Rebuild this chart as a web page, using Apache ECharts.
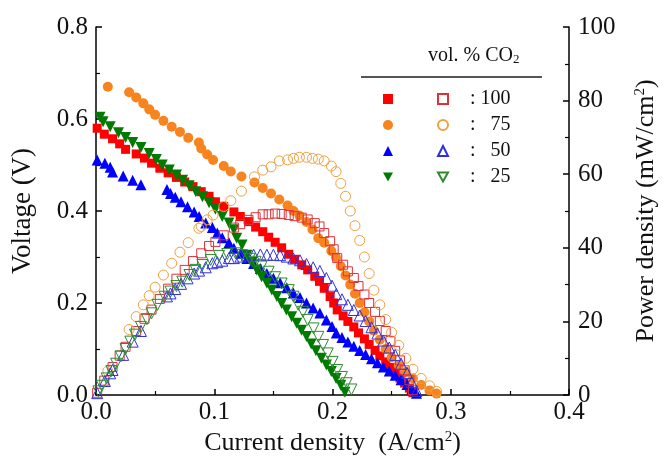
<!DOCTYPE html>
<html><head><meta charset="utf-8">
<script src="https://cdn.jsdelivr.net/npm/echarts@6/dist/echarts.min.js"></script>
<style>html,body{margin:0;padding:0;background:#fff}#c{width:667px;height:464px}</style>
</head><body><div id="c"></div>
<script>
// ---- data ----
const xLabels = ['0.0','0.1','0.2','0.3','0.4'];
const vLabels = ['0.0','0.2','0.4','0.6','0.8'];
const pLabels = ['0','20','40','60','80','100'];
const co2Labels = ['100','75','50','25'];

// 100 vol.% CO2
const curr100 = [0.001,0.007,0.014,0.020,0.025,0.034,0.041,0.047,0.054,0.061,0.068,0.075,0.082,0.089,0.0956,0.101,0.108,0.1166,0.122,0.129,0.135,0.141,0.146,0.1515,0.157,0.163,0.168,0.174,0.179,0.185,0.189,0.193,0.198,0.201,0.204,0.209,0.213,0.218,0.222,0.227,0.231,0.236,0.240,0.245,0.249,0.253,0.257,0.261,0.265,0.268];
const volt100 = [0.580,0.567,0.557,0.546,0.534,0.524,0.515,0.504,0.493,0.483,0.473,0.463,0.453,0.442,0.432,0.420,0.410,0.398,0.388,0.377,0.365,0.355,0.343,0.332,0.320,0.306,0.295,0.283,0.272,0.258,0.247,0.232,0.214,0.200,0.185,0.172,0.160,0.148,0.135,0.122,0.110,0.097,0.085,0.072,0.060,0.048,0.037,0.026,0.015,0.005];
const pow100 = [0.6,3.9,7.6,10.7,13.1,17.4,20.7,23.2,26.1,28.9,31.6,34.0,36.4,38.5,40.5,41.6,43.4,45.5,46.4,47.6,48.3,49.1,49.1,49.3,49.2,48.9,48.6,48.2,47.7,46.7,45.8,44.0,41.8,39.6,37.2,35.4,33.6,31.8,29.6,27.3,25.0,22.6,20.1,17.4,14.7,12.0,9.4,6.7,4.0,1.3];

// 75 vol.% CO2
const curr75 = [0.010,0.028,0.034,0.040,0.045,0.050,0.057,0.064,0.071,0.078,0.087,0.089,0.094,0.099,0.108,0.114,0.123,0.134,0.141,0.148,0.155,0.162,0.167,0.172,0.178,0.183,0.188,0.193,0.199,0.203,0.207,0.211,0.215,0.219,0.223,0.227,0.231,0.235,0.240,0.245,0.250,0.256,0.262,0.268,0.275,0.282,0.288];
const volt75 = [0.670,0.658,0.647,0.634,0.621,0.609,0.596,0.583,0.572,0.559,0.549,0.536,0.523,0.511,0.498,0.486,0.475,0.462,0.450,0.438,0.425,0.412,0.400,0.390,0.376,0.360,0.341,0.331,0.313,0.299,0.280,0.260,0.240,0.220,0.200,0.180,0.160,0.140,0.120,0.100,0.082,0.065,0.050,0.036,0.022,0.010,0.003];
const pow75 = [6.5,17.8,21.3,24.5,27.0,29.3,32.6,35.8,38.8,41.4,45.3,45.8,47.6,48.9,51.2,52.8,55.4,59.3,61.1,62.0,63.6,63.9,64.3,64.6,64.6,64.3,64.1,63.6,62.2,60.7,57.5,54.0,50.0,46.0,42.0,37.5,33.0,28.5,24.5,20.5,17.0,13.5,10.0,7.0,4.5,2.5,1.0];

// 50 vol.% CO2
const curr50 = [0.001,0.0075,0.012,0.014,0.023,0.031,0.038,0.060,0.063,0.067,0.0719,0.0774,0.083,0.0872,0.0928,0.0984,0.1026,0.1068,0.1124,0.1166,0.1222,0.1277,0.1333,0.139,0.1445,0.150,0.1557,0.1613,0.1669,0.1725,0.178,0.1836,0.1893,0.1948,0.1996,0.2032,0.208,0.213,0.218,0.223,0.228,0.233,0.238,0.243,0.248,0.253,0.258,0.263,0.267,0.271];
const volt50 = [0.511,0.504,0.495,0.485,0.476,0.467,0.457,0.447,0.438,0.430,0.420,0.409,0.398,0.388,0.374,0.364,0.352,0.342,0.331,0.319,0.308,0.297,0.286,0.275,0.264,0.254,0.244,0.233,0.222,0.212,0.200,0.189,0.178,0.163,0.149,0.135,0.125,0.115,0.106,0.097,0.088,0.079,0.070,0.061,0.052,0.043,0.033,0.023,0.013,0.004];
const pow50 = [0.5,3.8,5.9,6.8,10.9,14.5,17.4,26.8,27.6,28.8,30.2,31.7,33.0,33.8,34.7,35.8,36.1,36.5,37.2,37.2,37.6,37.9,38.1,38.2,38.1,38.1,38.0,37.6,37.1,36.6,35.6,34.7,33.7,31.8,29.7,27.4,26.0,24.5,23.1,21.6,20.1,18.4,16.7,14.8,12.9,10.9,8.5,6.0,3.5,1.1];

// 25 vol.% CO2
const curr25 = [0.0034,0.006,0.012,0.019,0.025,0.031,0.038,0.045,0.051,0.056,0.062,0.068,0.0732,0.0788,0.0844,0.090,0.0956,0.101,0.1067,0.1124,0.1166,0.119,0.1235,0.1277,0.132,0.136,0.140,0.1445,0.1487,0.1529,0.157,0.161,0.1655,0.1697,0.1738,0.178,0.182,0.186,0.1906,0.1948,0.199,0.203,0.207,0.2105];
const volt25 = [0.604,0.594,0.583,0.570,0.560,0.549,0.538,0.525,0.512,0.500,0.489,0.478,0.467,0.455,0.442,0.431,0.418,0.404,0.388,0.374,0.359,0.341,0.326,0.304,0.288,0.272,0.257,0.243,0.228,0.214,0.199,0.185,0.170,0.156,0.141,0.127,0.111,0.096,0.080,0.065,0.051,0.036,0.021,0.006];
const currP25 = [0.002,0.005,0.009,0.013,0.017,0.021,0.025,0.029,0.033,0.038,0.043,0.047,0.052,0.058,0.063,0.068,0.073,0.079,0.084,0.090,0.097,0.104,0.111,0.118,0.1235,0.130,0.135,0.140,0.146,0.1515,0.157,0.163,0.167,0.171,0.175,0.179,0.184,0.188,0.192,0.196,0.200,0.204,0.208,0.212,0.216];
const pow25 = [1.0,2.5,4.5,6.5,8.5,10.5,12.5,14.5,16.4,18.5,20.6,22.2,24.5,26.7,28.1,29.6,30.8,32.6,34.0,35.3,36.7,37.8,38.3,38.5,38.0,37.0,36.2,34.9,33.5,32.0,30.3,28.5,26.7,24.5,22.6,20.4,18.1,15.8,13.6,11.3,9.0,6.8,4.9,3.2,1.5];

// ---- chart ----
const chart = echarts.init(document.getElementById('c'), null, { renderer: 'canvas' });
const FONT = '"Liberation Serif", "Times New Roman", serif';
const TXT = '#111';
const DOWN_TRI = 'path://M0,0L10,0L5,9Z';
const pairs = (xs, ys) => xs.map((x, i) => [x, ys[i]]);

function filled(name, xs, ys, symbol, size, color, rot) {
  return { name, type: 'scatter', yAxisIndex: 0, data: pairs(xs, ys), symbol, symbolSize: size,
    symbolRotate: rot || 0, itemStyle: { color, opacity: 1 }, z: 2 };
}
function open(name, xs, ys, symbol, size, color, rot) {
  return { name, type: 'scatter', yAxisIndex: 1, data: pairs(xs, ys), symbol, symbolSize: size,
    symbolRotate: rot || 0,
    itemStyle: { color: 'rgba(255,255,255,0)', borderColor: color, borderWidth: 1, opacity: 1 }, z: 3 };
}

const labelMap = { P100: co2Labels[0], P75: co2Labels[1], P50: co2Labels[2], P25: co2Labels[3] };

const axisLine = { show: true, onZero: false, lineStyle: { color: '#000', width: 1.5 } };
const tick = { show: true, inside: true, length: 6, lineStyle: { color: '#000', width: 1.5 } };
const minor = { show: true, splitNumber: 2, length: 4, lineStyle: { color: '#000', width: 1.2 } };

const option = {
  animation: false,
  backgroundColor: '#fff',
  grid: { left: 96, right: 94, top: 27, bottom: 69, containLabel: false },
  xAxis: {
    type: 'value', min: 0, max: 0.4, interval: 0.1,
    axisLine, axisTick: tick, minorTick: minor, splitLine: { show: false },
    axisLabel: { margin: 5, fontSize: 25, fontFamily: FONT, color: TXT,
      formatter: v => xLabels[Math.round(v / 0.1)] },
    name: '{t|Current density  (A/cm}{s|2}{t|)}', nameLocation: 'middle', nameGap: 35,
    nameTextStyle: { fontFamily: FONT, fontSize: 26, color: TXT,
      rich: { t: { fontFamily: FONT, fontSize: 26, color: TXT },
              s: { fontFamily: FONT, fontSize: 15, color: TXT, verticalAlign: 'top' } } }
  },
  yAxis: [
    { type: 'value', position: 'left', min: 0, max: 0.8, interval: 0.2,
      axisLine, axisTick: tick, minorTick: minor, splitLine: { show: false },
      axisLabel: { margin: 8, fontSize: 25, fontFamily: FONT, color: TXT,
        formatter: v => vLabels[Math.round(v / 0.2)] },
      name: 'Voltage (V)', nameLocation: 'middle', nameGap: 60, nameRotate: 90,
      nameTextStyle: { fontFamily: FONT, fontSize: 27, color: TXT } },
    { type: 'value', position: 'right', min: 0, max: 100, interval: 20,
      axisLine, axisTick: tick, minorTick: minor, splitLine: { show: false },
      axisLabel: { margin: 9, fontSize: 25, fontFamily: FONT, color: TXT,
        formatter: v => pLabels[Math.round(v / 20)] },
      name: '{t|Power density (mW/cm}{s|2}{t|)}', nameLocation: 'middle', nameGap: 64, nameRotate: 90,
      nameTextStyle: { fontFamily: FONT, fontSize: 26, color: TXT,
        rich: { t: { fontFamily: FONT, fontSize: 26, color: TXT },
                s: { fontFamily: FONT, fontSize: 15, color: TXT, verticalAlign: 'top' } } } }
  ],
  legend: [
    { orient: 'vertical', left: 383, top: 86, padding: 0, itemGap: 0, itemWidth: 10, itemHeight: 10,
      selectedMode: false,
      data: ['V100', 'V75', 'V50', { name: 'V25', icon: DOWN_TRI }], formatter: () => ' ',
      textStyle: { fontSize: 20, lineHeight: 26, fontFamily: FONT } },
    { orient: 'vertical', left: 437, top: 86, padding: 0, itemGap: 0, itemWidth: 10, itemHeight: 10,
      selectedMode: false,
      data: ['P100', 'P75', 'P50', { name: 'P25', icon: DOWN_TRI }],
      formatter: name => '{c|:}{n|' + labelMap[name] + '}',
      textStyle: { fontSize: 20, lineHeight: 26, fontFamily: FONT, color: TXT,
        rich: { c: { fontSize: 20, fontFamily: FONT, color: TXT, padding: [0, 0, 0, 17] },
                n: { fontSize: 20, fontFamily: FONT, color: TXT, width: 35, align: 'right' } } } }
  ],
  graphic: [
    { type: 'text', left: 428, top: 46, style: { text: '{a|vol. % CO}{b|2}', fill: TXT,
        rich: { a: { fontSize: 20, fontFamily: FONT, fill: TXT },
                b: { fontSize: 13, fontFamily: FONT, fill: TXT, verticalAlign: 'bottom' } } } },
    { type: 'line', shape: { x1: 361, y1: 77, x2: 542, y2: 77 }, style: { stroke: '#555', lineWidth: 2 } }
  ],
  series: [
    filled('V100', curr100, volt100, 'rect', 9, '#ff0000'),
    filled('V75', curr75, volt75, 'circle', 10, '#f7841e'),
    filled('V50', curr50, volt50, 'triangle', 11, '#0000ff'),
    filled('V25', curr25, volt25, 'triangle', 11, '#007a00', 180),
    open('P100', curr100, pow100, 'rect', 9, '#e0303a'),
    open('P75', curr75, pow75, 'circle', 10, '#f0a040'),
    open('P50', curr50, pow50, 'triangle', 11, '#2f2fe0'),
    open('P25', currP25, pow25, 'triangle', 11, '#2e8b2e', 180)
  ]
};
chart.setOption(option);
</script></body></html>
